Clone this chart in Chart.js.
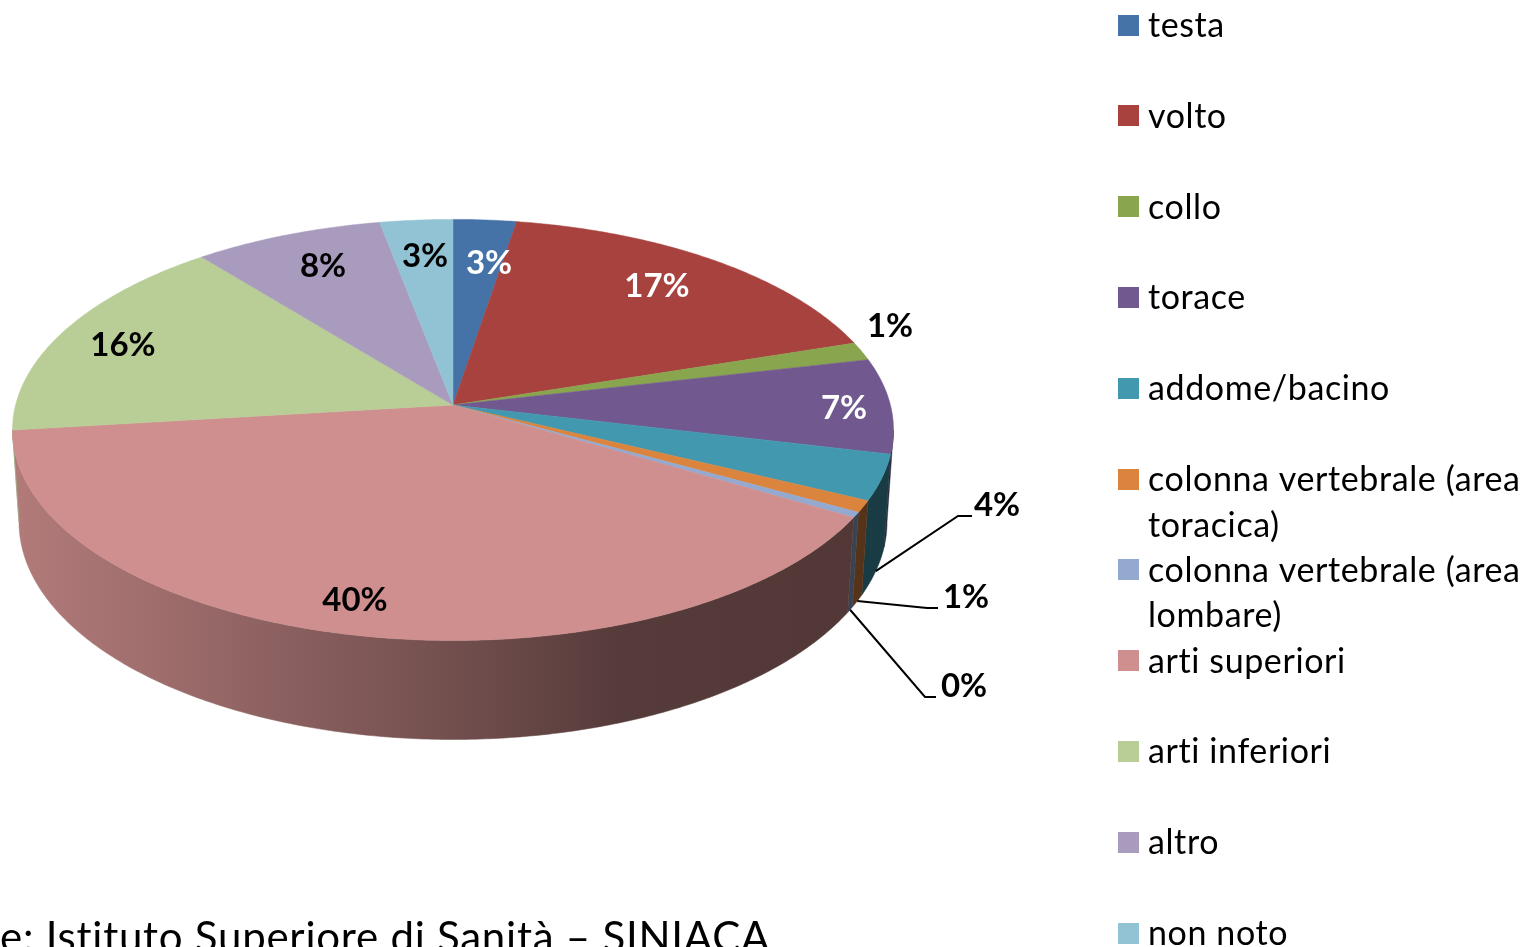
<!DOCTYPE html>
<html lang="it"><head><meta charset="utf-8">
<style>html,body{margin:0;padding:0;background:#fff;overflow:hidden}canvas{display:block}</style>
<script src="https://cdn.jsdelivr.net/npm/chart.js@4"></script>
</head><body><canvas id="c" width="1526" height="947"></canvas>
<script>
const categories = ['testa','volto','collo','torace','addome/bacino','colonna vertebrale (area toracica)','colonna vertebrale (area lombare)','arti superiori','arti inferiori','altro','non noto'];
const values = [2.6,17.4,1.4,7.3,3.5,0.9,0.4,39.6,16.1,7.8,3.0];
const colors = ['#4572A7','#A8423F','#89A54E','#71588F','#4198AF','#DB843D','#93A9CF','#CF8F8E','#B9CD96','#A99BBD','#92C3D4'];
const labelColors = ['#fff','#fff','#000','#fff','#000','#000','#000','#000','#000','#000','#000'];
const sourceText = 'e: Istituto Superiore di Sanità – SINIACA';

// layout only
const labelCenters = [[489,263],[657,286],[890,326],[844,408],[997,505],[966,597],[964,686],[355,600],[123,345],[323,266],[425,256]];
const leaders = {4:[[958,516],[972,516]],5:[[927,608],[938,608]],6:[[925,697],[936,697]]};
const P = {cx:453, ay:405, A:437.4, B:207.6, k:0.1185, ey:430, bsx:434/440.5, bsy:218/211, bey:522};
const FONT = 'Lato';
const shadeStops = [[12,.86],[150,.77],[300,.66],[480,.53],[620,.41],[894,.39]];

function rimTop(a){const u=Math.cos(a),v=Math.sin(a),w=1/(1-P.k*v);return [P.cx+P.A*u*w,P.ay+P.B*v*w];}
function rimBottom(a){const t=rimTop(a);return [P.cx+(t[0]-P.cx)*P.bsx,P.bey+(t[1]-P.ey)*P.bsy];}
function hexRgb(h){const n=parseInt(h.slice(1),16);return [n>>16,(n>>8)&255,n&255];}

const perspective = {
  id:'perspective',
  beforeDatasetsDraw(chart){
    const ctx=chart.ctx, els=chart.getDatasetMeta(0).data;
    els.forEach((el,i)=>{
      el.draw=function(c){
        const s=this.startAngle,e=this.endAngle,n=Math.max(2,Math.ceil((e-s)/0.01));
        c.save();c.beginPath();c.moveTo(P.cx,P.ay);
        for(let j=0;j<=n;j++){const p=rimTop(s+(e-s)*j/n);c.lineTo(p[0],p[1]);}
        c.closePath();c.fillStyle=colors[i];c.strokeStyle=colors[i];c.lineWidth=.5;c.fill();c.stroke();c.restore();
      };
    });
    // side wall, visible half of the rim only
    const lo=Math.asin(P.k), hi=Math.PI-Math.asin(P.k);
    els.forEach((el,i)=>{
      let s=el.startAngle,e=el.endAngle;
      const norm=x=>{let y=x;while(y<-Math.PI/2)y+=2*Math.PI;while(y>=1.5*Math.PI)y-=2*Math.PI;return y;};
      s=norm(s);e=s+(el.endAngle-el.startAngle);
      const a=Math.max(s,lo),b=Math.min(e,hi);
      if(b<=a)return;
      const n=Math.max(2,Math.ceil((b-a)/0.01));
      const g=ctx.createLinearGradient(12,0,894,0),rgb=hexRgb(colors[i]);
      shadeStops.forEach(([x,f])=>g.addColorStop((x-12)/882,`rgb(${rgb.map(v=>Math.round(v*f)).join(',')})`));
      ctx.save();ctx.beginPath();
      for(let j=0;j<=n;j++){const p=rimTop(a+(b-a)*j/n);j?ctx.lineTo(p[0],p[1]):ctx.moveTo(p[0],p[1]);}
      for(let j=n;j>=0;j--){const p=rimBottom(a+(b-a)*j/n);ctx.lineTo(p[0],p[1]);}
      ctx.closePath();ctx.fillStyle=g;ctx.strokeStyle=g;ctx.lineWidth=.5;ctx.fill();ctx.stroke();ctx.restore();
    });
  },
  afterDatasetsDraw(chart){
    const ctx=chart.ctx, els=chart.getDatasetMeta(0).data;
    ctx.save();
    // leader lines
    ctx.strokeStyle='#000';ctx.lineWidth=2;
    Object.keys(leaders).forEach(k=>{
      const el=els[k],mid=(el.startAngle+el.endAngle)/2,p=rimBottom(mid);
      ctx.beginPath();ctx.moveTo(p[0],p[1]);leaders[k].forEach(q=>ctx.lineTo(q[0],q[1]));ctx.stroke();
    });
    // value labels
    ctx.font=`bold 33px ${FONT}`;ctx.textAlign='center';ctx.textBaseline='middle';
    values.forEach((v,i)=>{ctx.fillStyle=labelColors[i];ctx.fillText(Math.round(v)+'%',labelCenters[i][0],labelCenters[i][1]);});
    // legend
    ctx.font=`34px ${FONT}`;ctx.letterSpacing='0.6px';ctx.textAlign='left';ctx.textBaseline='alphabetic';
    categories.forEach((name,i)=>{
      const y=25+i*90.8;
      ctx.fillStyle=colors[i];ctx.fillRect(1118,Math.round(y-10.5),21,21);
      ctx.fillStyle='#000';
      const words=name.split(' ');let lines=[],cur='';
      words.forEach(w=>{const t=cur?cur+' '+w:w;if(ctx.measureText(t).width>385&&cur){lines.push(cur);cur=w;}else cur=t;});
      lines.push(cur);
      lines.forEach((l,j)=>ctx.fillText(l,1148,y+12+j*45.5));
    });
    // source
    ctx.font=`42px ${FONT}`;ctx.letterSpacing='0.75px';ctx.fillStyle='#000';
    ctx.fillText(sourceText,0,952);
    ctx.restore();
  }
};

new Chart(document.getElementById('c'),{
  type:'pie',
  data:{labels:categories,datasets:[{data:values,backgroundColor:colors,borderWidth:0}]},
  options:{responsive:false,animation:false,events:[],
    plugins:{legend:{display:false},tooltip:{enabled:false}}},
  plugins:[perspective]
});
</script></body></html>
